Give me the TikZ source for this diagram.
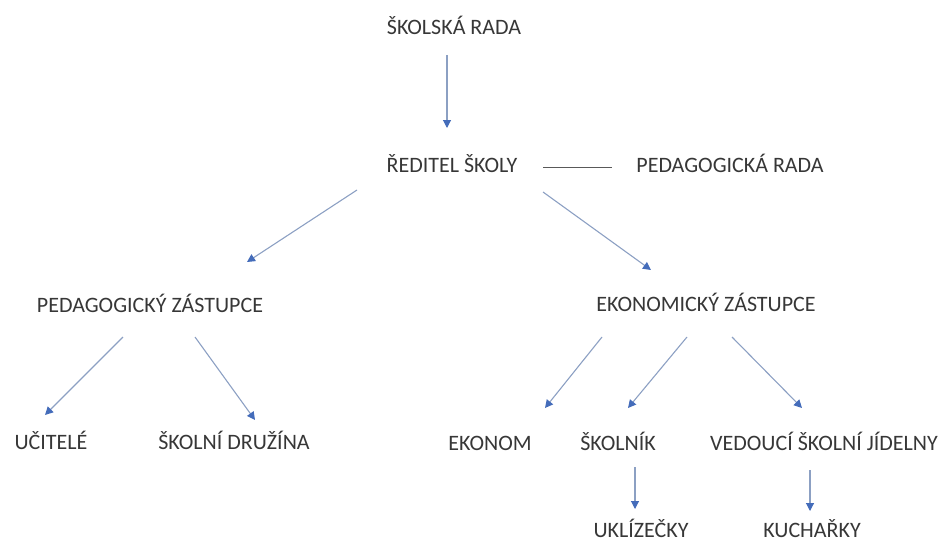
\documentclass[tikz,border=0pt]{standalone}
\usepackage{fontspec}
\setmainfont{Carlito}
\usetikzlibrary{arrows.meta}
\definecolor{linkline}{RGB}{140,160,195}
\definecolor{tipblue}{RGB}{68,108,186}
\definecolor{txtgray}{RGB}{55,55,55}
\begin{document}
\begin{tikzpicture}[
    x=1pt, y=-1pt,
    label/.style={inner sep=0pt, text height=14pt, text depth=0pt, text=txtgray,
                  font=\fontsize{22}{26}\selectfont},
    link/.style={draw=linkline, line width=1.1pt,
                 -{Triangle[length=8pt, width=8pt, color=tipblue]}},
    plain/.style={draw=black!65, line width=1pt},
]
\useasboundingbox (0,0) rectangle (942,543);

\node[label] (sr) at (454,28) {ŠKOLSKÁ RADA};
\node[label] (rs) at (452,165) {ŘEDITEL ŠKOLY};
\node[label] (pr) at (730,165) {PEDAGOGICKÁ RADA};

\node[label] (pz) at (150,305) {PEDAGOGICKÝ ZÁSTUPCE};
\node[label] (ez) at (706,304) {EKONOMICKÝ ZÁSTUPCE};

\node[label] (uc) at (51,442) {UČITELÉ};
\node[label] (sd) at (234,442) {ŠKOLNÍ DRUŽÍNA};
\node[label] (ek) at (490,443) {EKONOM};
\node[label] (sk) at (618,443) {ŠKOLNÍK};
\node[label] (vs) at (824,443) {VEDOUCÍ ŠKOLNÍ JÍDELNY};

\node[label] (uk) at (641,530) {UKLÍZEČKY};
\node[label] (ku) at (812,530) {KUCHAŘKY};

% vedeni skoly
\draw[link] ([shift={(-7,27)}]sr.center) -- ([shift={(-5,-37)}]rs.center);
\draw[plain] ([shift={(91,2)}]rs.center) -- ([shift={(-118,2)}]pr.center);
\draw[link] ([shift={(-95,25)}]rs.center) -- ([shift={(97,-43)}]pz.center);
\draw[link] ([shift={(91,27)}]rs.center) -- ([shift={(-55,-34)}]ez.center);

% zastupci
\draw[link] ([shift={(-27,32)}]pz.center) -- ([shift={(-6,-27)}]uc.center);
\draw[link] ([shift={(45,32)}]pz.center) -- ([shift={(21,-22)}]sd.center);
\draw[link] ([shift={(-104,33)}]ez.center) -- ([shift={(55,-35)}]ek.center);
\draw[link] ([shift={(-19,33)}]ez.center) -- ([shift={(10,-35)}]sk.center);
\draw[link] ([shift={(26,33)}]ez.center) -- ([shift={(-22,-35)}]vs.center);

% dalsi pracovnici
\draw[link] ([shift={(17,24)}]sk.center) -- ([shift={(-6,-21)}]uk.center);
\draw[link] ([shift={(-14,27)}]vs.center) -- ([shift={(-2,-19)}]ku.center);

\end{tikzpicture}
\end{document}
